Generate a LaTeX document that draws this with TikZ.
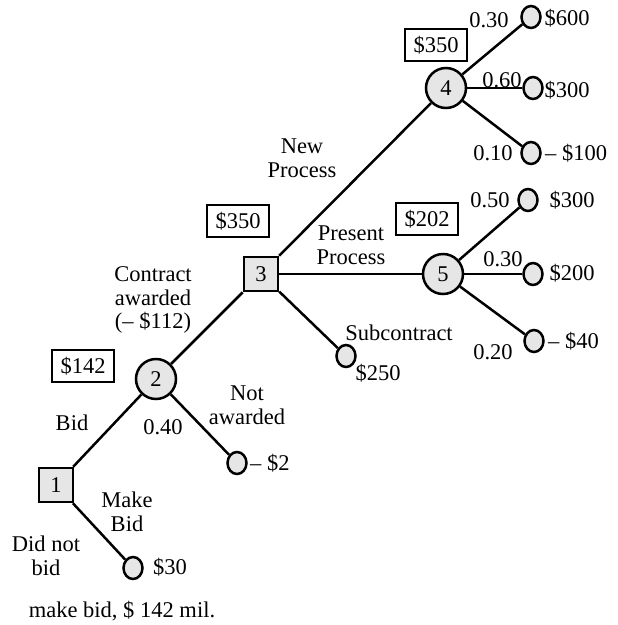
\documentclass[tikz,border=0pt]{standalone}
\usepackage{fontspec}
\setmainfont{Liberation Serif}
\usetikzlibrary{shapes.geometric}
\definecolor{nodefill}{HTML}{E6E6E6}
\begin{document}
\begin{tikzpicture}[x=1pt,y=-1pt,
  every node/.style={font=\fontsize{22.5}{23.5}\selectfont},
  decsq/.style={draw,line width=2.5pt,fill=nodefill,rectangle,minimum size=34pt,inner sep=0pt},
  chance/.style={draw,line width=2.5pt,fill=nodefill,circle,minimum size=40pt,inner sep=0pt},
  leaf/.style={draw,line width=2.5pt,fill=nodefill,ellipse,minimum width=19pt,minimum height=22pt,inner sep=0pt},
  valbox/.style={draw,line width=2.5pt,rectangle,minimum width=62pt,minimum height=32pt,inner sep=0pt},
  lbl/.style={align=center,inner sep=0pt},
  edge/.style={line width=2.5pt}]
\useasboundingbox (0,0) rectangle (618,625);
% decision and chance nodes
\node[decsq] (n1) at (56,485) {1};
\node[chance] (n2) at (156,379) {2};
\node[decsq] (n3) at (261,274) {3};
\node[chance] (n4) at (446,88) {4};
\node[chance] (n5) at (443,274) {5};
% leaves
\node[leaf] (l30) at (133,568) {};
\node[leaf] (lm2) at (237,463) {};
\node[leaf] (l250) at (346,356) {};
\node[leaf] (l600) at (531,17) {};
\node[leaf] (l300a) at (533,88) {};
\node[leaf] (lm100) at (531,153) {};
\node[leaf] (l300b) at (528,200) {};
\node[leaf] (l200) at (533,274) {};
\node[leaf] (lm40) at (534,341) {};
% connectors
\draw[edge] (n1) -- (n2);
\draw[edge] (n1) -- (l30);
\draw[edge] (n2) -- (n3);
\draw[edge] (n2) -- (lm2);
\draw[edge] (n3) -- (n4);
\draw[edge] (n3) -- (n5);
\draw[edge] (n3) -- (l250);
\draw[edge] (n4) -- (l600);
\draw[edge] (n4) -- (l300a);
\draw[edge] (n4) -- (lm100);
\draw[edge] (n5) -- (l300b);
\draw[edge] (n5) -- (l200);
\draw[edge] (n5) -- (lm40);
% value boxes
\node[valbox] (b142) at (83,366) {\$142};
\node[valbox] (b350a) at (238,221) {\$350};
\node[valbox] (b202) at (427,219) {\$202};
\node[valbox] (b350b) at (436,45) {\$350};
% labels
\node[lbl] (t30) at (170,567) {\$30};
\node[lbl,anchor=west] (tm2) at (250,463) {-- \$2};
\node[lbl] (tdnb) at (46,556) {Did not\\bid};
\node[lbl] (tmb) at (127,512) {Make\\Bid};
\node[lbl] (tbid) at (72,423) {Bid};
\node[lbl] (t040) at (163,427) {0.40};
\node[lbl] (tna) at (247,405) {Not\\awarded};
\node[lbl] (tca) at (153,300) {Contract\\awarded\\(-- \$112)};
\node[lbl] (tnp) at (302,158) {New\\Process};
\node[lbl] (tpp) at (351,245) {Present\\Process};
\node[lbl] (tsub) at (399,333) {Subcontract};
\node[lbl] (t250) at (378,373) {\$250};
\node[lbl] (p050) at (490,200) {0.50};
\node[lbl] (p030b) at (503,259) {0.30};
\node[lbl] (p020) at (493,352) {0.20};
\node[lbl] (v300b) at (572,200) {\$300};
\node[lbl] (v200) at (572,273) {\$200};
\node[lbl,anchor=west] (vm40) at (548,341) {-- \$40};
\node[lbl] (p030a) at (489,20) {0.30};
\node[lbl] (p060) at (502,80) {0.60};
\node[lbl] (p010) at (493,153) {0.10};
\node[lbl] (v600) at (567,18) {\$600};
\node[lbl] (v300a) at (567,90) {\$300};
\node[lbl,anchor=west] (vm100) at (545,153) {-- \$100};
\node[lbl] (tfoot) at (122,611) {make bid, \$ 142 mil.};
\end{tikzpicture}
\end{document}
